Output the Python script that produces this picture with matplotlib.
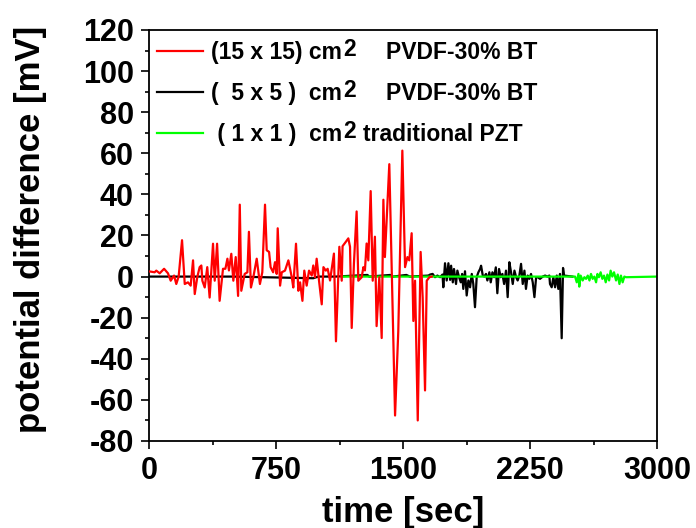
import matplotlib
matplotlib.use('Agg')
import matplotlib.pyplot as plt
from matplotlib.ticker import MultipleLocator

plt.rcParams['font.family'] = ['Liberation Sans', 'DejaVu Sans']
plt.rcParams['font.weight'] = 'bold'
plt.rcParams['axes.unicode_minus'] = False

# (15 x 15) cm2 PVDF-30% BT
red_t = [0, 4, 33, 43, 63, 89, 112, 128, 148, 161, 175, 195, 211, 230, 246, 260, 270,
         285, 299, 309, 315, 329, 344, 358, 378, 388, 402, 417, 437, 451, 463, 472, 486,
         498, 512, 526, 536, 545, 565, 581, 590, 602, 616, 636, 655, 669, 685, 695, 709,
         718, 733, 744, 754, 760, 774, 784, 803, 823, 843, 852, 868, 882, 892, 906, 917,
         931, 945, 961, 970, 980, 990, 1004, 1020, 1030, 1044, 1055, 1069, 1092, 1104,
         1124, 1138, 1143, 1163, 1177, 1187, 1197, 1210, 1226, 1236, 1256, 1266, 1275,
         1285, 1295, 1309, 1321, 1334, 1344, 1360, 1374, 1384, 1393, 1419, 1433, 1453,
         1472, 1496, 1512, 1526, 1537, 1551, 1561, 1571, 1587, 1604, 1616, 1630, 1640,
         1656, 1670]
red_v = [2.5, 2.5, 2.1, 2.9, 1.6, 3.8, 1.6, -2, 0.5, -3.6, 0, 17.7, -3.6, -2.8, -4.4, 7.9,
         -8.5, -0.3, 4.6, 5.4, -2, -5.3, 4.6, -10.2, 16, -2, 16, -11.8, 3.8, 3.8, 8.7, 3,
         11.1, -2, 9.5, -9.4, 35, -6.9, 1.3, 2.1, 21.8, -5.3, -0.3, 8.7, -3.6, 2.1, 35,
         12.8, 12, 4.6, 2.1, 7, 1.3, 23.5, -4.4, 2.1, 2.9, 7.9, -0.3, -5.3, 16, -6.9, -2.8,
         -11.8, 2.9, -4.4, 2.9, 0.5, 5.4, -0.3, 8.7, -2, -13.5, 4.6, 2.9, 3.8, -1.9, 11.2,
         -31.5, 14.5, -2, 14.8, 17, 18.6, 14.5, -25, 6.2, 31.7, -2, -0.3, 4.6, 3, 16.1,
         7.9, 41.6, -2, 19.4, -24.1, -0.3, -29.9, 37.4, 9.5, 54.7, 4.6, -67.6, -26.6, 61.3,
         4.6, 9.5, 7.9, 21.1, -21.6, -2, -70, 12, -10.2, -55.4, -2, -0.3, 0]

# (5 x 5) cm2 PVDF-30% BT
black_t = [0, 500, 970, 1000, 1100, 1290, 1300, 1425, 1440, 1520, 1540, 1650, 1660, 1675,
           1689, 1703, 1719, 1733, 1738, 1748, 1758, 1768, 1778, 1784, 1794, 1801, 1813,
           1821, 1831, 1841, 1849, 1856, 1866, 1876, 1886, 1896, 1906, 1915, 1925, 1935,
           1945, 1955, 1961, 1971, 1980, 1990, 1998, 2010, 2018, 2028, 2038, 2048, 2057,
           2067, 2077, 2087, 2097, 2108, 2118, 2128, 2138, 2148, 2158, 2168, 2177, 2187,
           2197, 2207, 2217, 2226, 2236, 2246, 2256, 2266, 2276, 2286, 2295, 2309, 2325,
           2339, 2353, 2364, 2368, 2378, 2388, 2398, 2408, 2417, 2427, 2437, 2445, 2451,
           2500]
black_v = [0, 0, -0.8, 0, 0, 0.8, 0, 0.8, 0, 0.8, 0, 0.5, 1.0, 1.3, -0.3, 0.5, -0.3, 1.0,
           -5.2, 6.5, -1.9, 6.5, -1.6, 5.3, -2.8, 3.7, -3.6, 2.9, -0.3, -2.8, 1.3, -6.0,
           2.6, -9.2, -1.9, -5.2, 1.3, -3.6, -14.9, -0.3, 2.1, 3.7, 5.3, 0.5, 0, 1.3, -1.9,
           2.1, -2.8, 2.1, -0.3, 4.5, -8.1, 3.7, -0.3, 1.3, -3.6, 2.9, -10.0, 7.0, 2.1,
           -3.6, 2.9, -0.3, -1.9, 0.5, 6.2, -3.6, 2.9, -6.0, 0.5, -1.1, 1.3, -2.8, -10.0,
           -0.3, -0.3, -1.1, 0, 0.5, 0, 0.5, -3.6, -5.2, -0.3, -5.2, 0.5, -6.0, 1.3, -30,
           4.2, 0.5, 0]

# (1 x 1) cm2 traditional PZT
green_t = [1138, 2516, 2526, 2536, 2541, 2549, 2561, 2571, 2581, 2591, 2601, 2610, 2620,
           2630, 2640, 2648, 2657, 2667, 2677, 2687, 2697, 2707, 2717, 2726, 2736, 2746,
           2758, 2768, 2778, 2787, 2797, 2807, 2817, 3000]
green_v = [0, 0, -2.8, 1.3, -4.9, 0.5, -1.9, -0.3, -1.1, 0.5, -1.9, 1.3, -1.1, 0, -2.8,
           1.3, -0.3, 2.1, -1.1, 0.5, -2.8, 1.0, -1.9, 2.9, 0, 2.1, -1.9, 1.0, -3.6, 0.5,
           -2.8, 0, -0.3, 0]

labels = ['(15 x 15) cm', '(  5 x 5 )  cm', ' ( 1 x 1 )  cm']
suffixes = ['PVDF-30% BT', 'PVDF-30% BT', 'traditional PZT']
suffix_x = [0.4665, 0.4665, 0.4213]

fig = plt.figure(figsize=(6.96, 5.28), dpi=100)
ax = fig.add_axes([0.2141, 0.1648, 0.7299, 0.7784])

l1, = ax.plot(red_t, red_v, color='#ff0000', lw=1.6, zorder=3)
l2, = ax.plot(black_t, black_v, color='black', lw=1.6, zorder=1)
l3, = ax.plot(green_t, green_v, color='#00ff00', lw=1.6, zorder=2)

ax.set_xlim(0, 3000)
ax.set_ylim(-80, 120)
ax.xaxis.set_major_locator(MultipleLocator(750))
ax.xaxis.set_minor_locator(MultipleLocator(375))
ax.yaxis.set_major_locator(MultipleLocator(20))
ax.yaxis.set_minor_locator(MultipleLocator(10))
ax.tick_params(which='major', direction='out', length=6, width=1.2, labelsize=22, pad=5)
ax.tick_params(which='minor', direction='out', length=3, width=1.2)
for s in ax.spines.values():
    s.set_linewidth(1.3)

ax.set_xlabel('time [sec]', fontsize=25, fontweight='bold')
ax.set_ylabel('potential difference [mV]', fontsize=25, fontweight='bold')
ax.xaxis.set_label_coords(0.5, -0.135)
ax.yaxis.set_label_coords(-0.2, 0.515)

leg = ax.legend([l1, l2, l3], labels, loc='upper left', bbox_to_anchor=(0.016, 0.972),
                frameon=False, fontsize=16.5, handlelength=2.0, handletextpad=0.35,
                labelspacing=0.78, borderpad=0, borderaxespad=0)
leg.set_zorder(5)

for txt, suf, sx in zip(leg.get_texts(), suffixes, suffix_x):
    ax.annotate('2', xy=(1, 0), xycoords=txt, xytext=(1, 2.5), textcoords='offset points',
                ha='left', va='bottom', fontsize=16.5, fontweight='bold', zorder=6)
    ax.annotate(suf, xy=(sx, 0), xycoords=(ax.transAxes, txt), ha='left', va='bottom',
                fontsize=16.5, fontweight='bold', zorder=6)

fig.savefig('out.png', dpi=100)
